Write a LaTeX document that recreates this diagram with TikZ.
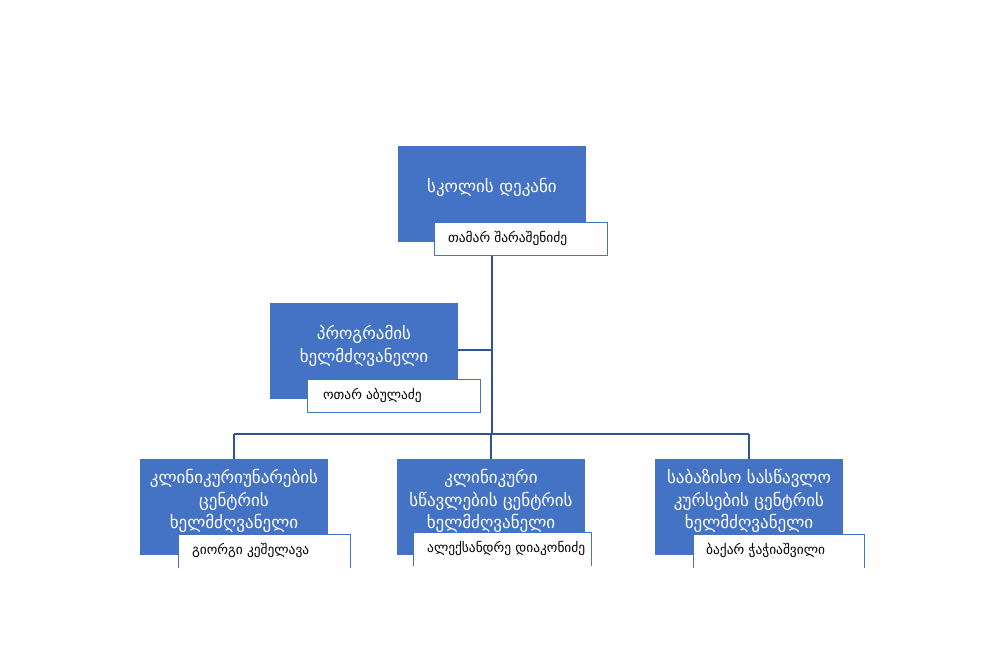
\documentclass[tikz,border=0pt]{standalone}
\usepackage{fontspec}
\setmainfont{DejaVu Sans}
\definecolor{boxblue}{RGB}{68,114,196}
\definecolor{lineblue}{RGB}{47,85,151}
\definecolor{nameborder}{RGB}{68,114,196}
\begin{document}
\begin{tikzpicture}[x=1pt,y=-1pt,
  rolebox/.style={fill=boxblue, draw=none, minimum width=188pt, minimum height=96pt, inner sep=0pt, anchor=north west},
  roletext/.style={text=white, align=center, font=\fontsize{17}{22.5}\selectfont, inner sep=0pt},
  namebox/.style={fill=white, anchor=north west, minimum height=33pt, inner sep=0pt},
  nametext/.style={anchor=west, inner sep=0pt, font=\fontsize{13.4}{16}\selectfont},
  nameline/.style={draw=nameborder, line width=1pt},
  conn/.style={draw=lineblue, line width=2.4pt}]
\useasboundingbox (0,0) rectangle (989,665);

% role boxes
\node[rolebox] (dean) at (398,146) {};
\node[rolebox] (prog) at (270,303) {};
\node[rolebox] (clinskill) at (140,459) {};
\node[rolebox] (clinteach) at (397,459) {};
\node[rolebox] (basic) at (655,459) {};

% connectors
\coordinate (bus) at (492,434);
\coordinate (progjoin) at (492,350);
\coordinate (deanstart) at (492,255);
\draw[conn] (deanstart) -- (bus);
\draw[conn] (prog.east |- progjoin) -- (progjoin);
\draw[conn] (clinskill.north |- bus) -- (basic.north |- bus);
\draw[conn] (clinskill.north |- bus) -- (clinskill.north);
\draw[conn] (clinteach.north |- bus) -- (clinteach.north);
\draw[conn] (basic.north |- bus) -- (basic.north);

% role texts
\node[roletext] (deantext) at (492,187) {სკოლის დეკანი};
\node[roletext] (progtext) at (364,346) {პროგრამის\\ხელმძღვანელი};
\node[roletext] (clinskilltext) at (234,501) {კლინიკურიუნარების\\ცენტრის\\ხელმძღვანელი};
\node[roletext] (clinteachtext) at (491,501) {კლინიკური\\სწავლების ცენტრის\\ხელმძღვანელი};
\node[roletext] (basictext) at (749,501) {საბაზისო სასწავლო\\კურსების ცენტრის\\ხელმძღვანელი};

% name boxes
\node[namebox, minimum width=173pt] (deanname) at (434,222) {};
\draw[nameline] (deanname.north west) rectangle (deanname.south east);
\node[nametext] (deannametext) at ([xshift=14pt]deanname.west) {თამარ შარაშენიძე};

\node[namebox, minimum width=173pt] (progname) at (307,379) {};
\draw[nameline] (progname.north west) rectangle (progname.south east);
\node[nametext] (prognametext) at ([xshift=16pt]progname.west) {ოთარ აბულაძე};

\node[namebox, minimum width=172pt, minimum height=34pt] (clinskillname) at (178,534) {};
\draw[nameline] (clinskillname.south west) -- (clinskillname.north west) -- (clinskillname.north east) -- (clinskillname.south east);
\node[nametext] (clinskillnametext) at ([xshift=14pt,yshift=1pt]clinskillname.west) {გიორგი კეშელავა};

\node[namebox, minimum width=178pt, minimum height=34pt] (clinteachname) at (413,532) {};
\draw[nameline] (clinteachname.south west) -- (clinteachname.north west) -- (clinteachname.north east) -- (clinteachname.south east);
\node[nametext] (clinteachnametext) at ([xshift=14pt,yshift=1pt]clinteachname.west) {ალექსანდრე დიაკონიძე};

\node[namebox, minimum width=171pt, minimum height=34pt] (basicname) at (693,534) {};
\draw[nameline] (basicname.south west) -- (basicname.north west) -- (basicname.north east) -- (basicname.south east);
\node[nametext] (basicnametext) at ([xshift=13pt,yshift=1pt]basicname.west) {ბაქარ ჭაჭიაშვილი};
\end{tikzpicture}
\end{document}
